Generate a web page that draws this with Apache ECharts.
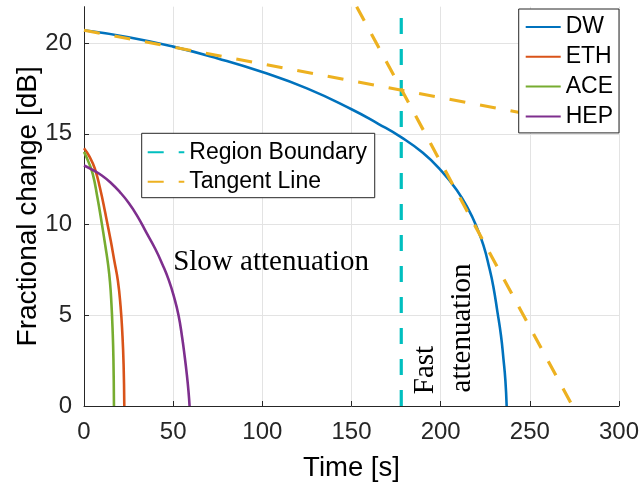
<!DOCTYPE html>
<html><head><meta charset="utf-8">
<script src="https://cdn.jsdelivr.net/npm/echarts@6/dist/echarts.min.js"></script>
<style>html,body{margin:0;padding:0;background:#fff}#c{width:643px;height:487px}</style>
</head><body><div id="c"></div>
<script>
// ---- data ----
const xTicks = [0, 50, 100, 150, 200, 250, 300];
const yTicks = [0, 5, 10, 15, 20];

const dwT = [0, 25, 50, 75, 100, 125, 150, 165, 178, 190, 200, 209, 216, 220, 224, 227.3, 229.5, 231.8, 233.8, 235.2, 236.3, 237];
const dwV = [20.7, 20.32, 19.8, 19.15, 18.4, 17.5, 16.35, 15.55, 14.8, 13.95, 13.0, 11.9, 10.75, 9.9, 8.85, 7.6, 6.6, 5.2, 3.9, 2.6, 1.4, 0];

const ethT = [0, 3, 6, 9, 12, 15, 17, 19, 20.5, 21.5, 22.2, 22.6];
const ethV = [14.2, 13.75, 13.1, 12.0, 10.6, 9.1, 8.0, 6.9, 5.5, 4.0, 2.3, 0];

const aceT = [0, 2.5, 5, 7.5, 10, 12, 13.5, 14.6, 15.4, 16.0, 16.5, 16.8];
const aceV = [14.0, 13.45, 12.75, 11.5, 10.05, 8.8, 7.8, 6.8, 5.6, 4.3, 2.6, 0];

const hepT = [0, 5, 10, 15, 20, 25, 30, 35, 40, 44, 47.5, 50.5, 53, 55, 56.5, 57.7, 58.6, 59.2];
const hepV = [13.25, 13.0, 12.7, 12.3, 11.8, 11.2, 10.45, 9.55, 8.65, 7.8, 6.95, 6.0, 5.0, 3.8, 2.7, 1.7, 0.8, 0];

const boundaryT = [177.9, 177.9];
const boundaryV = [0, 22];

const tan1T = [0, 300];
const tan1V = [20.7, 15.14];
const tan2T = [152.9, 273.9];
const tan2V = [22, 0];

const noteTexts = ['Slow attenuation', 'Fast', 'attenuation'];
const noteT = [50, 191.5, 212];
const noteV = [7.9, 0.65, 0.75];
const noteRot = [0, 90, 90];

// ---- chart ----
const pairs = (t, v) => t.map((x, i) => [x, v[i]]);
const SANS = 'Liberation Sans, Arial, sans-serif';
const SERIF = 'Liberation Serif, Times New Roman, serif';
const AX = '#262626';
const GRID = '#e3e3e3';

const chart = echarts.init(document.getElementById('c'), null, {renderer: 'canvas'});

const solid = (name, t, v, color) => ({
  name, type: 'line', data: pairs(t, v), symbol: 'none', smooth: 0.5,
  lineStyle: {color, width: 2.6}, itemStyle: {color}, animation: false
});
const dashed = (name, t, v, color) => ({
  name, type: 'line', data: pairs(t, v), symbol: 'none',
  lineStyle: {color, width: 3.2, type: [16, 15]}, itemStyle: {color}, animation: false
});

const legendCommon = {
  orient: 'vertical', backgroundColor: '#fff', borderColor: AX, borderWidth: 1, borderRadius: 0,
  itemHeight: 14, selectedMode: false,
  itemStyle: {opacity: 0},
  textStyle: {fontSize: 23, lineHeight: 23, color: '#000', fontFamily: SANS}
};

chart.setOption({
  animation: false,
  backgroundColor: '#fff',
  grid: {left: 84, right: 24, top: 6.7, bottom: 80.3, containLabel: false},
  xAxis: {
    type: 'value', min: 0, max: 300, interval: 50,
    name: 'Time [s]', nameLocation: 'middle', nameGap: 48, nameMoveOverlap: false,
    nameTextStyle: {fontSize: 27.5, color: '#000', fontFamily: SANS},
    axisLine: {show: true, onZero: false, lineStyle: {color: AX, width: 1}},
    axisTick: {show: true, inside: true, length: 5, lineStyle: {color: AX}},
    axisLabel: {fontSize: 24, color: AX, fontFamily: SANS, margin: 14},
    splitLine: {show: true, lineStyle: {color: GRID, width: 1}}
  },
  yAxis: {
    type: 'value', min: 0, max: 22, interval: 5,
    name: 'Fractional change [dB]', nameLocation: 'middle', nameGap: 42, nameRotate: 90, nameMoveOverlap: false,
    nameTextStyle: {fontSize: 28, color: '#000', fontFamily: SANS},
    axisLine: {show: true, onZero: false, lineStyle: {color: AX, width: 1}},
    axisTick: {show: true, inside: true, length: 5, lineStyle: {color: AX}, customValues: yTicks},
    axisLabel: {fontSize: 24, color: AX, fontFamily: SANS, margin: 12, customValues: yTicks},
    splitLine: {show: true, lineStyle: {color: [GRID, GRID, GRID, GRID, GRID, 'rgba(0,0,0,0)'], width: 1}}
  },
  legend: [
    Object.assign({}, legendCommon, {
      data: ['DW', 'ETH', 'ACE', 'HEP'], right: 24, top: 9,
      itemWidth: 35, itemGap: 6.8, padding: [6.5, 6, 5, 6]
    }),
    Object.assign({}, legendCommon, {
      data: ['Region Boundary', 'Tangent Line'], left: 141.7, top: 133.3,
      itemWidth: 36.6, itemGap: 6.4, padding: [7.5, 7.7, 4.5, 5]
    })
  ],
  series: [
    solid('DW', dwT, dwV, '#0072BD'),
    solid('ETH', ethT, ethV, '#D95319'),
    solid('ACE', aceT, aceV, '#77AC30'),
    solid('HEP', hepT, hepV, '#7E2F8E'),
    dashed('Region Boundary', boundaryT, boundaryV, '#00BFBF'),
    dashed('Tangent Line', tan1T, tan1V, '#EDB120'),
    dashed('Tangent Line', tan2T, tan2V, '#EDB120')
  ]
});

const graphics = noteTexts.map((txt, i) => {
  const p = chart.convertToPixel({gridIndex: 0}, [noteT[i], noteV[i]]);
  return {
    type: 'text', x: p[0], y: p[1], rotation: noteRot[i] * Math.PI / 180, z: 10,
    style: {text: txt, font: '29px ' + SERIF, fill: '#000', align: 'left', verticalAlign: 'middle'}
  };
});
chart.setOption({graphic: graphics});
</script>
</body></html>
